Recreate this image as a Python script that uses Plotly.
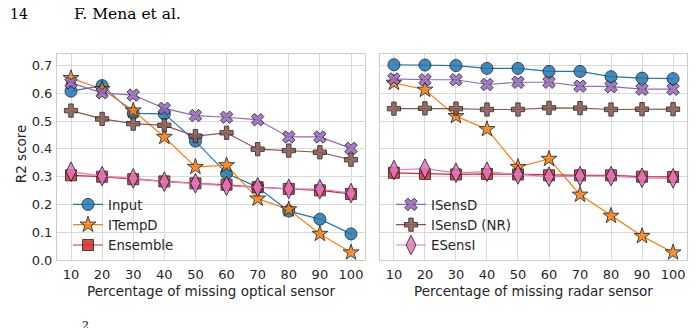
import plotly.graph_objects as go

pct = [10, 20, 30, 40, 50, 60, 70, 80, 90, 100]
x_ticks = [10, 20, 30, 40, 50, 60, 70, 80, 90, 100]
y_ticks = [0.0, 0.1, 0.2, 0.3, 0.4, 0.5, 0.6, 0.7]

# Left panel: missing optical sensor
opt_input = [0.608, 0.628, 0.528, 0.526, 0.428, 0.312, 0.262, 0.176, 0.147, 0.094]
opt_itempd = [0.655, 0.615, 0.538, 0.443, 0.335, 0.341, 0.221, 0.182, 0.094, 0.027]
opt_ensemble = [0.305, 0.300, 0.291, 0.283, 0.276, 0.271, 0.262, 0.256, 0.251, 0.238]
opt_isensd = [0.638, 0.602, 0.594, 0.546, 0.520, 0.514, 0.505, 0.443, 0.443, 0.402]
opt_isensd_nr = [0.538, 0.508, 0.491, 0.485, 0.446, 0.458, 0.399, 0.394, 0.388, 0.361]
opt_esensi = [0.318, 0.302, 0.294, 0.282, 0.276, 0.267, 0.262, 0.256, 0.255, 0.241]

# Right panel: missing radar sensor
rad_input = [0.703, 0.702, 0.700, 0.690, 0.690, 0.679, 0.679, 0.660, 0.655, 0.653]
rad_itempd = [0.638, 0.613, 0.518, 0.471, 0.335, 0.364, 0.235, 0.159, 0.086, 0.027]
rad_ensemble = [0.314, 0.310, 0.308, 0.310, 0.308, 0.305, 0.305, 0.305, 0.300, 0.299]
rad_isensd = [0.652, 0.649, 0.649, 0.632, 0.640, 0.640, 0.626, 0.624, 0.615, 0.615]
rad_isensd_nr = [0.545, 0.546, 0.545, 0.542, 0.542, 0.548, 0.547, 0.542, 0.543, 0.543]
rad_esensi = [0.324, 0.329, 0.314, 0.318, 0.308, 0.300, 0.302, 0.302, 0.296, 0.294]

names = ["Input", "ITempD", "Ensemble", "ISensD", "ISensD (NR)", "ESensI"]
colors = ["#1f77b4", "#ff7f0e", "#d62728", "#9467bd", "#8c564b", "#e377c2"]
symbols = ["circle", "star", "square", "x", "cross", "diamond-tall"]
sizes = [12, 12, 11, 11, 11, 14]

left = [opt_input, opt_itempd, opt_ensemble, opt_isensd, opt_isensd_nr, opt_esensi]
right = [rad_input, rad_itempd, rad_ensemble, rad_isensd, rad_isensd_nr, rad_esensi]

FS = 13.5
TFS = 13
TXT = "#262626"

fig = go.Figure()
for i, name in enumerate(names):
    for panel, vals in ((1, left[i]), (2, right[i])):
        show = (panel == 1 and i < 3) or (panel == 2 and i >= 3)
        fig.add_trace(go.Scatter(
            x=pct, y=vals, name=name, mode="lines+markers",
            xaxis="x" if panel == 1 else "x2", yaxis="y" if panel == 1 else "y2",
            line=dict(color=colors[i], width=1.2),
            marker=dict(symbol=symbols[i], size=sizes[i], color=colors[i],
                        opacity=0.85, line=dict(color="#222222", width=1)),
            showlegend=show, legend="legend" if i < 3 else "legend2",
        ))

W, H = 695, 328
axis_common = dict(range=[5.5, 104.5], tickvals=x_ticks, showgrid=True,
                   gridcolor="#d9d9d9", gridwidth=1, showline=True, linecolor="#cccccc",
                   linewidth=1, mirror=True, zeroline=False, ticks="", ticklabelstandoff=2,
                   tickfont=dict(family="DejaVu Sans", size=TFS, color=TXT))
yaxis_common = dict(range=[0, 0.743], tickvals=y_ticks, showgrid=True,
                    gridcolor="#d9d9d9", gridwidth=1, showline=True, linecolor="#cccccc",
                    linewidth=1, mirror=True, zeroline=False, ticks="", ticklabelstandoff=1,
                    tickfont=dict(family="DejaVu Sans", size=TFS, color=TXT))

yb = (H - 266.5) / H
yt = (H - 55) / H
fig.update_layout(
    width=W, height=H, margin=dict(l=0, r=0, t=0, b=0),
    paper_bgcolor="white", plot_bgcolor="white",
    xaxis=dict(domain=[57 / W, 365 / W], anchor="y", **axis_common),
    yaxis=dict(domain=[yb, yt], anchor="x", tickformat=".1f", **yaxis_common),
    xaxis2=dict(domain=[380 / W, 687 / W], anchor="y2", **axis_common),
    yaxis2=dict(domain=[yb, yt], anchor="x2", showticklabels=False, **yaxis_common),
    legend=dict(x=68 / W, y=(H - 194) / H, xanchor="left", yanchor="top",
                bgcolor="rgba(255,255,255,0)", font=dict(family="DejaVu Sans", size=13.3, color=TXT)),
    legend2=dict(x=391 / W, y=(H - 194) / H, xanchor="left", yanchor="top",
                 bgcolor="rgba(255,255,255,0)", font=dict(family="DejaVu Sans", size=13.3, color=TXT)),
    font=dict(family="DejaVu Sans", color=TXT),
    annotations=[
        dict(text="14", x=8 / W, y=(H - 14) / H, xref="paper", yref="paper", xanchor="left",
             yanchor="middle", showarrow=False, font=dict(family="DejaVu Serif", size=14, color="#000000")),
        dict(text="F. Mena et al.", x=72 / W, y=(H - 14) / H, xref="paper", yref="paper", xanchor="left",
             yanchor="middle", showarrow=False, font=dict(family="DejaVu Serif", size=15.5, color="#000000")),
        dict(text="R2 score", x=21 / W, y=(H - 158) / H, xref="paper", yref="paper", textangle=-90,
             xanchor="center", yanchor="middle", showarrow=False,
             font=dict(family="DejaVu Sans", size=FS, color=TXT)),
        dict(text="Percentage of missing optical sensor", x=211 / W, y=(H - 298) / H, xref="paper",
             yref="paper", xanchor="center", yanchor="middle", showarrow=False,
             font=dict(family="DejaVu Sans", size=FS, color=TXT)),
        dict(text="Percentage of missing radar sensor", x=533 / W, y=(H - 298) / H, xref="paper",
             yref="paper", xanchor="center", yanchor="middle", showarrow=False,
             font=dict(family="DejaVu Sans", size=FS, color=TXT)),
        dict(text="2", x=80 / W, y=(H - 325) / H, xref="paper", yref="paper", xanchor="left",
             yanchor="top", showarrow=False, font=dict(family="DejaVu Serif", size=11, color="#000000")),
    ],
)

fig.write_html("out.html")
